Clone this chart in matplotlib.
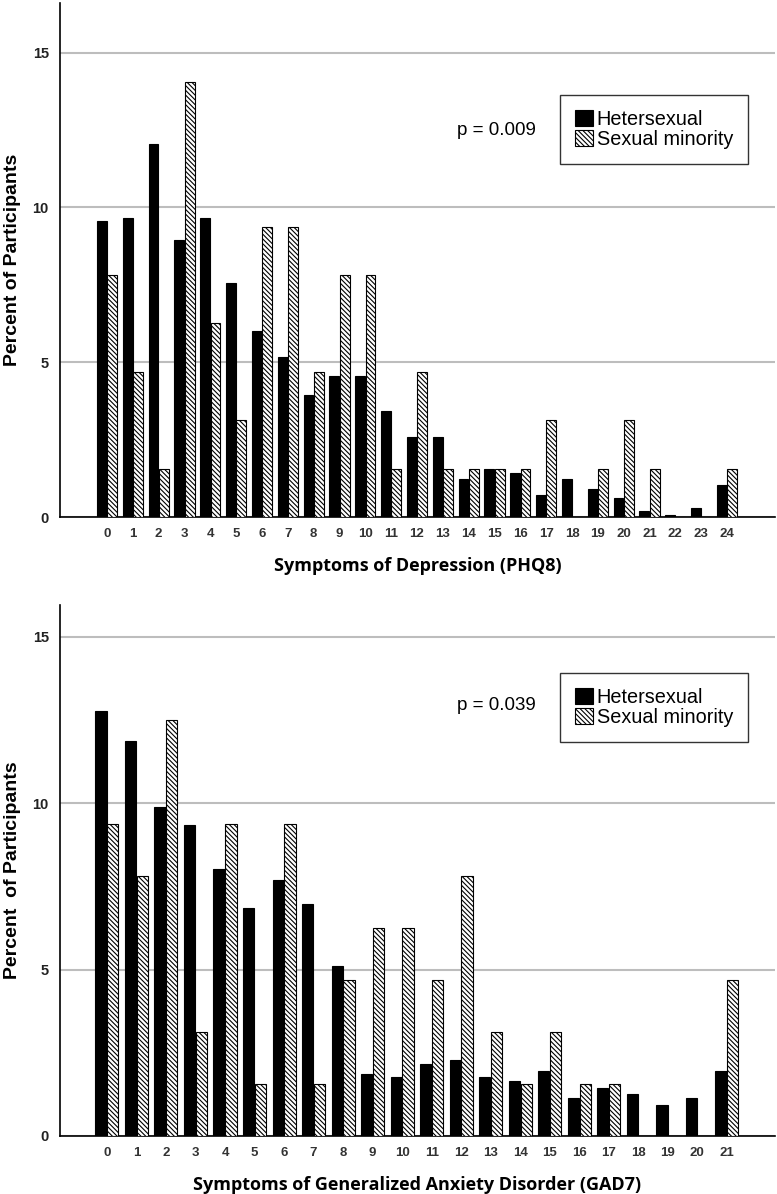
import matplotlib
matplotlib.use('Agg')
import matplotlib.pyplot as plt
import numpy as np

plt.rcParams['font.family'] = ['Liberation Sans', 'DejaVu Sans']
plt.rcParams['hatch.linewidth'] = 0.8

# PHQ8 scores (depression)
phq_scores = list(range(25))
phq_het = [9.55, 9.65, 12.05, 8.93, 9.65, 7.57, 6.00, 5.17, 3.93, 4.54, 4.54, 3.43,
           2.57, 2.57, 1.23, 1.54, 1.43, 0.70, 1.23, 0.92, 0.60, 0.18, 0.07, 0.29, 1.02]
phq_sm = [7.81, 4.69, 1.56, 14.06, 6.25, 3.13, 9.38, 9.38, 4.69, 7.81, 7.81, 1.56,
          4.69, 1.56, 1.56, 1.56, 1.56, 3.13, 0, 1.56, 3.13, 1.56, 0, 0, 1.56]
phq_p = 'p = 0.009'

# GAD7 scores (anxiety)
gad_scores = list(range(22))
gad_het = [12.77, 11.86, 9.88, 9.35, 8.01, 6.85, 7.70, 6.96, 5.10, 1.86, 1.76, 2.17,
           2.28, 1.76, 1.65, 1.96, 1.13, 1.45, 1.25, 0.93, 1.13, 1.96]
gad_sm = [9.38, 7.81, 12.50, 3.13, 9.38, 1.56, 9.38, 1.56, 4.69, 6.25, 6.25, 4.69,
          7.81, 3.13, 1.56, 3.13, 1.56, 1.56, 0, 0, 0, 4.69]
gad_p = 'p = 0.039'

labels = ['Hetersexual', 'Sexual minority']

fig = plt.figure(figsize=(7.77, 11.94), dpi=100)
ax1 = fig.add_axes([0.0772, 0.567, 0.9202, 0.4305])
ax2 = fig.add_axes([0.0772, 0.0486, 0.9202, 0.4447])


def draw_panel(ax, scores, het, sm, ptext, xlabel, ylabel, xlim, ylim, legend_box, ptext_xy):
    x = np.array(scores)
    w = 0.38
    ax.bar(x - 0.2, het, w, color='black', edgecolor='black', linewidth=0.8, label=labels[0], zorder=3)
    ax.bar(x + 0.2, sm, w, color='white', edgecolor='black', linewidth=0.8, hatch='\\\\\\\\\\\\\\',
           label=labels[1], zorder=3)
    ax.set_xlim(*xlim)
    ax.set_ylim(*ylim)
    ax.set_xticks(x)
    ax.set_xticklabels([str(s) for s in scores], fontsize=9.5, color='#333333', fontweight='bold')
    ax.set_yticks([0, 5, 10, 15])
    ax.set_yticklabels(['0', '5', '10', '15'], fontsize=10.5, color='#222222', fontweight='bold')
    ax.tick_params(axis='x', length=0, pad=8)
    ax.tick_params(axis='y', length=0, pad=8)
    ax.grid(axis='y', color='#bdbdbd', linewidth=1.5, zorder=0)
    for s in ['top', 'right']:
        ax.spines[s].set_visible(False)
    ax.spines['left'].set_linewidth(1.2)
    ax.spines['bottom'].set_linewidth(1.2)
    ax.set_xlabel(xlabel, fontsize=13, fontweight='bold', family='Open Sans', labelpad=12)
    ax.set_ylabel(ylabel, fontsize=14, fontweight='bold')
    ax.yaxis.set_label_coords(-0.055, 0.5)
    leg = ax.legend(loc='upper left', bbox_to_anchor=legend_box, fontsize=14.3, frameon=True,
                    fancybox=False, edgecolor='black', handlelength=0.9, handleheight=0.9,
                    handletextpad=0.2, labelspacing=0.05, borderpad=0.75, borderaxespad=0)
    leg.get_frame().set_linewidth(1.0)
    ax.text(ptext_xy[0], ptext_xy[1], ptext, transform=ax.transAxes, fontsize=13.5,
            ha='left', va='center')


draw_panel(ax1, phq_scores, phq_het, phq_sm, phq_p, 'Symptoms of Depression (PHQ8)',
           'Percent of Participants', (-1.82, 25.86), (0, 16.6), (0.699, 0.821), (0.555, 0.752))
draw_panel(ax2, gad_scores, gad_het, gad_sm, gad_p,
           'Symptoms of Generalized Anxiety Disorder (GAD7)',
           'Percent  of Participants', (-1.59, 22.63), (0, 15.95), (0.699, 0.872), (0.555, 0.81))

fig.savefig('out.png', dpi=100)
